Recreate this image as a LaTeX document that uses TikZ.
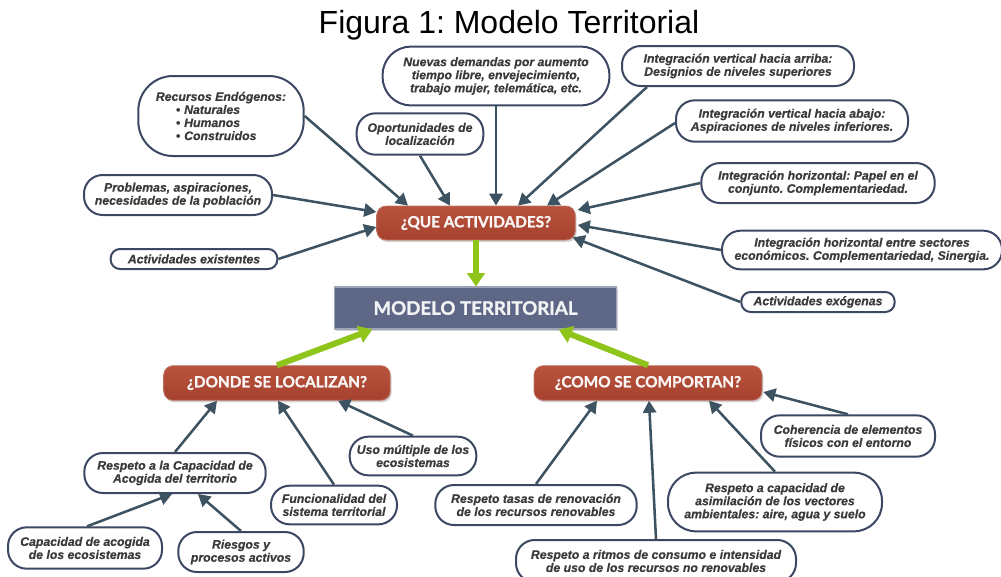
\documentclass[tikz,border=0pt]{standalone}
\usepackage{fontspec}
\setmainfont{Liberation Sans}[BoldItalicFeatures={FakeBold=0.5}]
\newfontfamily\boxfont{Lato}[BoldFeatures={FakeBold=1.2}]
\usetikzlibrary{arrows.meta,calc,shadows}
\frenchspacing

\definecolor{rosso}{HTML}{A5412E}
\definecolor{rossochiaro}{HTML}{B9533D}
\definecolor{ardesia}{HTML}{5E6786}
\definecolor{freccia}{HTML}{3E5361}
\definecolor{bordo}{HTML}{3B4763}
\definecolor{testo}{HTML}{3A3A3A}
\definecolor{verde}{HTML}{8FC41A}

\begin{document}
\begin{tikzpicture}[x=0.75pt,y=-0.75pt,
    fumetto/.style={draw=bordo,line width=1.5pt,fill=white,rounded corners=#1,
        align=center,inner sep=0pt,text=testo,
        font={\fontsize{9.2}{9.8}\selectfont\bfseries\itshape}},
    fumetto/.default=14pt,
    domanda/.style={rounded corners=7pt,top color=rossochiaro,bottom color=rosso,
        draw=rosso!70!white,line width=0.6pt,text=white!95!rosso,inner sep=0pt,
        font={\boxfont\fontsize{11.5}{12}\selectfont\bfseries},
        drop shadow={shadow xshift=1pt,shadow yshift=-1.5pt,opacity=0.35}},
    collega/.style={draw=freccia,line width=1.9pt,-{Triangle[length=9pt,width=10pt]}},
    verso/.style={draw=verde,line width=4.5pt,-{Triangle[length=10pt,width=13pt]}}]

    \useasboundingbox (0,0) rectangle (1001,576);

    % Titolo
    \node (titolo) at (509,25) {\fontsize{24}{26}\selectfont Figura 1: Modelo Territorial};

    % Nodo centrale
    \node[fill=ardesia,draw=ardesia!60!white,line width=0.8pt,inner sep=0pt,
        minimum width=211pt,minimum height=31.5pt,text=white!92!ardesia,
        font={\boxfont\fontsize{14}{15}\selectfont\bfseries},
        drop shadow={shadow xshift=1pt,shadow yshift=-1.5pt,opacity=0.35}]
        (modello) at (475.5,308) {MODELO TERRITORIAL};

    % Domande
    \node[domanda,minimum width=149pt,minimum height=25.5pt] (que) at (476,223) {¿QUE ACTIVIDADES?};
    \node[domanda,minimum width=170pt,minimum height=26pt] (donde) at (277,383) {¿DONDE SE LOCALIZAN?};
    \node[domanda,minimum width=171pt,minimum height=26pt] (como) at (648,383) {¿COMO SE COMPORTAN?};

    % Fumetti attorno a ¿QUE ACTIVIDADES?
    \node[fumetto=26pt,minimum width=124pt,minimum height=60pt,align=left] (recursos) at (221,116)
        {Recursos Endógenos:\\\hspace*{15pt}•\hspace{3pt}Naturales\\\hspace*{15pt}•\hspace{3pt}Humanos\\\hspace*{15pt}•\hspace{3pt}Construidos};
    \node[fumetto=21pt,minimum width=170pt,minimum height=44pt] (nuevas) at (496,76)
        {Nuevas demandas por aumento\\tiempo libre, envejecimiento,\\trabajo mujer, telemática, etc.};
    \node[fumetto,minimum width=95pt,minimum height=31pt] (oportunidades) at (420,134)
        {Oportunidades de\\localización};
    \node[fumetto,minimum width=141pt,minimum height=30pt] (problemas) at (178,195)
        {Problemas, aspiraciones,\\necesidades de la población};
    \node[fumetto=7pt,minimum width=125pt,minimum height=15pt] (existentes) at (194,259)
        {Actividades existentes};
    \node[fumetto,minimum width=174pt,minimum height=30pt] (arriba) at (738,66)
        {Integración vertical hacia arriba:\\Designios de niveles superiores};
    \node[fumetto,minimum width=174pt,minimum height=31pt] (abajo) at (792,121)
        {Integración vertical hacia abajo:\\Aspiraciones de niveles inferiores.};
    \node[fumetto,minimum width=175pt,minimum height=30pt] (papel) at (818,183)
        {Integración horizontal: Papel en el\\conjunto. Complementariedad.};
    \node[fumetto,minimum width=210pt,minimum height=29pt] (sectores) at (862,250)
        {Integración horizontal entre sectores\\económicos. Complementariedad, Sinergia.};
    \node[fumetto=7pt,minimum width=115pt,minimum height=15pt] (exogenas) at (818,302)
        {Actividades exógenas};

    % Fumetti sotto ¿DONDE SE LOCALIZAN?
    \node[fumetto,minimum width=136pt,minimum height=30pt] (respeto) at (175,473)
        {Respeto a la Capacidad de\\Acogida del territorio};
    \node[fumetto,minimum width=115.5pt,minimum height=31pt] (acogida) at (85,548)
        {Capacidad de acogida\\de los ecosistemas};
    \node[fumetto,minimum width=94pt,minimum height=30pt] (riesgos) at (241,552)
        {Riesgos y\\procesos activos};
    \node[fumetto,minimum width=94.5pt,minimum height=29pt] (funcionalidad) at (334,505)
        {Funcionalidad del\\sistema territorial};
    \node[fumetto,minimum width=95pt,minimum height=29pt] (uso) at (413,456)
        {Uso múltiple de los\\ecosistemas};

    % Fumetti sotto ¿COMO SE COMPORTAN?
    \node[fumetto,minimum width=151pt,minimum height=30pt] (tasas) at (536,505)
        {Respeto tasas de renovación\\de los recursos renovables};
    \node[fumetto,minimum width=210pt,minimum height=31.5pt] (ritmos) at (656,561)
        {Respeto a ritmos de consumo e intensidad\\de uso de los recursos no renovables};
    \node[fumetto=21pt,minimum width=160.5pt,minimum height=44pt] (asimilacion) at (775,502)
        {Respeto a capacidad de\\asimilación de los vectores\\ambientales: aire, agua y suelo};
    \node[fumetto,minimum width=130.5pt,minimum height=31pt] (coherencia) at (848,436)
        {Coherencia de elementos\\físicos con el entorno};

    % Frecce verso ¿QUE ACTIVIDADES?
    \draw[collega] (recursos.east) -- ($(que.north)+(-68,0)$);
    \draw[collega] (oportunidades.south) -- ($(que.north)+(-26,0)$);
    \draw[collega] (nuevas.south) -- (nuevas.south |- que.north);
    \draw[collega] ($(arriba.south west)+(26,0)$) -- ($(que.north)+(42,0)$);
    \draw[collega] ($(abajo.west)+(0,2)$) -- ($(que.north)+(71,0)$);
    \draw[collega] (papel.west) -- ($(que.east)+(2,-13)$);
    \draw[collega] (sectores.west) -- ($(que.east)+(2,2)$);
    \draw[collega] (exogenas.west) -- ($(que.south east)+(-3,-3)$);
    \draw[collega] (problemas.east) -- ($(que.west)+(0,-11)$);
    \draw[collega] (existentes.east) -- ($(que.west)+(0,4)$);

    % Frecce verso ¿DONDE SE LOCALIZAN?
    \draw[collega] (respeto.north) -- ($(donde.south)+(-60,0)$);
    \draw[collega] (funcionalidad.north) -- ($(donde.south)+(1,0)$);
    \draw[collega] (uso.north) -- ($(donde.south)+(61,0)$);
    \draw[collega] ($(acogida.north)+(2,0)$) -- ($(respeto.south)+(-3,0)$);
    \draw[collega] (riesgos.north) -- ($(respeto.south)+(23,0)$);

    % Frecce verso ¿COMO SE COMPORTAN?
    \draw[collega] (tasas.north) -- ($(como.south)+(-51,0)$);
    \draw[collega] (ritmos.north) -- ($(como.south)+(1,0)$);
    \draw[collega] (asimilacion.north) -- ($(como.south)+(61,0)$);
    \draw[collega] (coherencia.north) -- ($(como.east)+(1,9)$);

    % Frecce verdi verso il modello
    \draw[verso] (que.south) -- (que.south |- modello.north);
    \draw[verso] (donde.north) -- ($(modello.south west)+(38,0)$);
    \draw[verso] (como.north) -- ($(modello.south east)+(-58,0)$);
\end{tikzpicture}
\end{document}
